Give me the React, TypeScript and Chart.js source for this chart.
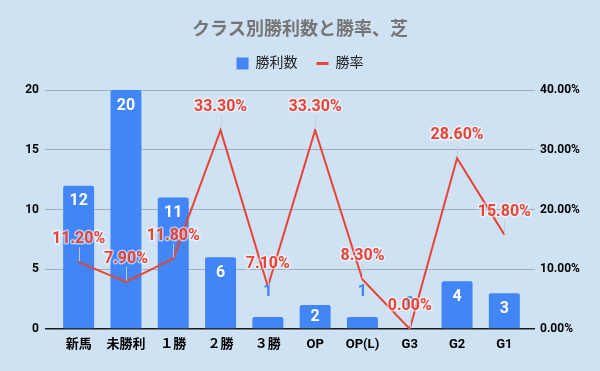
import React, { useEffect, useRef } from 'react';
import { Chart, registerables } from 'chart.js';

Chart.register(...registerables);

const chartTitle = 'クラス別勝利数と勝率、芝';
const categories = ['新馬', '未勝利', '１勝', '２勝', '３勝', 'OP', 'OP(L)', 'G3', 'G2', 'G1'];
const wins = [12, 20, 11, 6, 1, 2, 1, 0, 4, 3];
const winRates = [11.2, 7.9, 11.8, 33.3, 7.1, 33.3, 8.3, 0, 28.6, 15.8];
const seriesNames = ['勝利数', '勝率'];

const BG = '#cfe2f3';
const BLUE = '#4285f4';
const RED = '#ea4335';
const GRID = '#a3aebb';
const FONT = 'Roboto, "Noto Sans CJK JP", sans-serif';

const valueLabels = {
  id: 'valueLabels',
  afterDatasetsDraw(chart: any) {
    const ctx = chart.ctx;
    ctx.save();
    ctx.textAlign = 'center';
    ctx.textBaseline = 'middle';
    // bar labels
    ctx.font = `bold 16px ${FONT}`;
    chart.getDatasetMeta(0).data.forEach((el: any, i: number) => {
      const p = el.getProps(['x', 'y', 'base'], true);
      const h = p.base - p.y;
      const t = String(wins[i]);
      if (h >= 20) {
        ctx.fillStyle = '#ffffff';
        ctx.fillText(t, p.x, p.y + Math.min(15.5, h / 2));
      } else {
        ctx.fillStyle = BLUE;
        ctx.fillText(t, p.x, p.y - 25);
      }
    });
    // line labels
    chart.getDatasetMeta(1).data.forEach((el: any, i: number) => {
      const p = el.getProps(['x', 'y'], true);
      const ly = p.y - 23;
      ctx.strokeStyle = 'rgba(200,208,216,0.9)';
      ctx.lineWidth = 1;
      ctx.beginPath();
      ctx.moveTo(Math.round(p.x) + 0.5, ly + 8);
      ctx.lineTo(Math.round(p.x) + 0.5, p.y - 1);
      ctx.stroke();
      const t = winRates[i].toFixed(2) + '%';
      ctx.font = `bold 16px ${FONT}`;
      ctx.lineJoin = 'round';
      ctx.lineWidth = 3;
      ctx.strokeStyle = 'rgba(255,255,255,0.55)';
      ctx.strokeText(t, p.x, ly);
      ctx.fillStyle = RED;
      ctx.fillText(t, p.x, ly);
    });
    ctx.restore();
  },
};

const gridColor = (c: any) => (c.tick && c.tick.value === 0 ? '#1a1a1a' : GRID);
const gridWidth = (c: any) => (c.tick && c.tick.value === 0 ? 1.5 : 1);

export default function App() {
  const ref = useRef<HTMLCanvasElement | null>(null);

  useEffect(() => {
    document.body.style.margin = '0';
    const canvas = ref.current;
    if (!canvas) return;
    const chart = new Chart(canvas, {
      type: 'bar',
      data: {
        labels: categories,
        datasets: [
          {
            type: 'bar',
            label: seriesNames[0],
            data: wins,
            backgroundColor: BLUE,
            borderWidth: 0,
            borderRadius: { topLeft: 2, topRight: 2, bottomLeft: 0, bottomRight: 0 },
            borderSkipped: false,
            barPercentage: 0.655,
            categoryPercentage: 1,
            yAxisID: 'y',
            order: 2,
            pointStyle: 'rect',
          },
          {
            type: 'line',
            label: seriesNames[1],
            data: winRates,
            borderColor: RED,
            backgroundColor: RED,
            borderWidth: 2,
            pointRadius: 0,
            pointHoverRadius: 0,
            tension: 0,
            yAxisID: 'y1',
            order: 1,
            pointStyle: 'line',
          },
        ],
      } as any,
      options: {
        responsive: false,
        animation: false,
        events: [],
        layout: { padding: 0 },
        font: { family: FONT },
        plugins: {
          title: {
            display: true,
            text: chartTitle,
            color: '#757575',
            font: { family: FONT, size: 18, weight: 'bold' },
            padding: { top: 20, bottom: -4 },
          },
          legend: {
            display: true,
            position: 'top',
            labels: {
              usePointStyle: true,
              pointStyleWidth: 12,
              boxWidth: 12,
              boxHeight: 12,
              padding: 19,
              color: '#202124',
              font: { family: FONT, size: 14 },
              generateLabels(chart: any) {
                const items = (Chart.defaults.plugins.legend.labels as any).generateLabels(chart);
                items.sort((a: any, b: any) => a.datasetIndex - b.datasetIndex);
                items.forEach((it: any) => {
                  if (it.datasetIndex === 1) {
                    it.lineWidth = 3;
                    it.strokeStyle = RED;
                    it.pointStyle = 'line';
                  } else {
                    it.lineWidth = 0;
                    it.fillStyle = BLUE;
                    it.pointStyle = 'rect';
                  }
                });
                return items;
              },
            },
          },
          tooltip: { enabled: false },
        },
        scales: {
          x: {
            position: 'bottom',
            offset: true,
            grid: { display: false, drawTicks: false },
            border: { display: false },
            ticks: {
              padding: 8,
              color: '#000',
              autoSkip: false,
              maxRotation: 0,
              font: { family: FONT, size: 13, weight: 'bold' },
            },
            afterFit(s: any) {
              s.height = 42;
            },
          },
          xTop: {
            type: 'category',
            position: 'top',
            display: true,
            grid: { display: false, drawTicks: false },
            border: { display: false },
            ticks: { display: false },
            afterFit(s: any) {
              s.height = 9.5;
            },
          },
          y: {
            position: 'left',
            min: 0,
            max: 20,
            grid: { color: gridColor, lineWidth: gridWidth, tickLength: 10, drawTicks: true },
            border: { display: false },
            ticks: {
              stepSize: 5,
              padding: 6,
              color: '#000',
              font: { family: FONT, size: 12, weight: 'bold' },
            },
            afterFit(s: any) {
              s.width = 55;
            },
          },
          y1: {
            position: 'right',
            min: 0,
            max: 40,
            grid: {
              drawOnChartArea: false,
              color: gridColor,
              lineWidth: gridWidth,
              tickLength: 7,
              drawTicks: true,
            },
            border: { display: false },
            ticks: {
              stepSize: 10,
              padding: 5,
              color: '#000',
              font: { family: FONT, size: 12, weight: 'bold' },
              callback: (v: any) => Number(v).toFixed(2) + '%',
            },
            afterFit(s: any) {
              s.width = 72;
            },
          },
        },
      } as any,
      plugins: [valueLabels],
    });
    return () => chart.destroy();
  }, []);

  return (
    <div
      style={{
        position: 'absolute',
        left: 0,
        top: 0,
        width: 600,
        height: 371,
        background: BG,
      }}
    >
      <canvas ref={ref} width={600} height={371} style={{ display: 'block' }} />
    </div>
  );
}
